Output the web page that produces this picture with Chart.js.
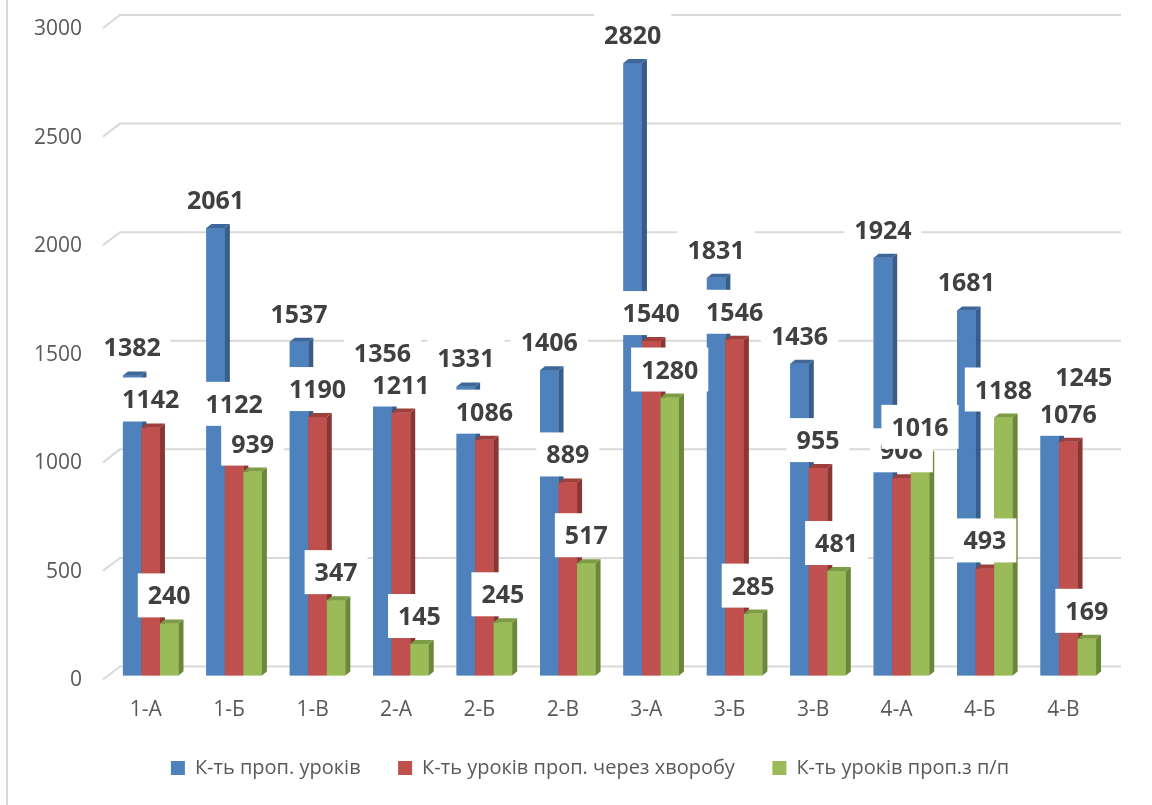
<!DOCTYPE html>
<html><head><meta charset="utf-8">
<script src="https://cdn.jsdelivr.net/npm/chart.js@4.4.0/dist/chart.umd.min.js"></script>
<style>html,body{margin:0;padding:0;background:#fff;}#wrap{width:1152px;height:805px;}</style>
</head><body><div id="wrap"><canvas id="c" width="1152" height="805"></canvas></div>
<script>
// ---- data ----
const categories = ['1-А','1-Б','1-В','2-А','2-Б','2-В','3-А','3-Б','3-В','4-А','4-Б','4-В'];
const seriesNames = ['К-ть проп. уроків','К-ть уроків проп. через хворобу','К-ть уроків проп.з п/п'];
const missedTotal   = [1382, 2061, 1537, 1356, 1331, 1406, 2820, 1831, 1436, 1924, 1681, 1245];
const missedIllness = [1142, 1122, 1190, 1211, 1086,  889, 1540, 1546,  955,  908,  493, 1076];
const missedOther   = [ 240,  939,  347,  145,  245,  517, 1280,  285,  481, 1016, 1188,  169];
const yMin = 0, yMax = 3000, yStep = 500;

// ---- style ----
const DX = 5, DY = 4;
const faces = [
  {front:'#4F81BD', side:'#385D8A', top:'#3F679A'},
  {front:'#C0504D', side:'#8A3634', top:'#9E3F3C'},
  {front:'#9BBB59', side:'#6C873A', top:'#7D9C45'}
];
const labelNudge = {'0-11': 34}; // dataset-index : x shift of label box
const gridColor = '#d9d9d9';

function noPad(s) { s.paddingTop = 0; s.paddingBottom = 0; s.paddingLeft = 0; s.paddingRight = 0; }

const threeD = {
  id: 'threeD',
  beforeDraw(chart) {
    const ctx = chart.ctx;
    ctx.save();
    ctx.strokeStyle = gridColor; ctx.lineWidth = 2;
    ctx.beginPath(); ctx.moveTo(7, 0); ctx.lineTo(7, chart.height); ctx.stroke();
    ctx.restore();
  },
  beforeDatasetsDraw(chart) {
    const ctx = chart.ctx, ys = chart.scales.y, a = chart.chartArea;
    ctx.save();
    ctx.strokeStyle = gridColor; ctx.lineWidth = 2;
    ys.ticks.forEach(t => {
      const py = ys.getPixelForValue(t.value);
      ctx.beginPath();
      ctx.moveTo(a.left - 6, py + 4);
      ctx.lineTo(a.left + 11, py - 9);
      ctx.lineTo(a.right + 11, py - 9);
      ctx.stroke();
    });
    ctx.restore();
  },
  afterDatasetsDraw(chart) {
    const ctx = chart.ctx;
    ctx.save();
    chart.data.datasets.forEach((ds, i) => {
      const meta = chart.getDatasetMeta(i);
      const f = faces[i];
      meta.data.forEach(el => {
        const {x, y, base, width} = el.getProps(['x','y','base','width'], true);
        const l = x - width/2, r = x + width/2;
        ctx.fillStyle = f.front;
        ctx.fillRect(l, y, width, base - y);
        ctx.fillStyle = f.side;
        ctx.beginPath();
        ctx.moveTo(r, y); ctx.lineTo(r + DX, y - DY); ctx.lineTo(r + DX, base - DY); ctx.lineTo(r, base);
        ctx.closePath(); ctx.fill();
        ctx.fillStyle = f.top;
        ctx.beginPath();
        ctx.moveTo(l, y); ctx.lineTo(l + DX, y - DY); ctx.lineTo(r + DX, y - DY); ctx.lineTo(r, y);
        ctx.closePath(); ctx.fill();
      });
    });
    ctx.restore();
  },
  afterDraw(chart) {
    const ctx = chart.ctx;
    ctx.save();
    ctx.font = 'bold 25px "Open Sans"';
    ctx.textAlign = 'center';
    ctx.textBaseline = 'alphabetic';
    chart.data.datasets.forEach((ds, i) => {
      const meta = chart.getDatasetMeta(i);
      meta.data.forEach((el, j) => {
        const {x, y} = el.getProps(['x','y'], true);
        const txt = String(ds.data[j]);
        const w = ctx.measureText(txt).width + 20;
        const cx = x + (labelNudge[i + '-' + j] || 0);
        const cy = y - 28;
        ctx.fillStyle = '#ffffff';
        ctx.fillRect(cx - w/2, cy - 22, w, 44);
        ctx.fillStyle = '#404040';
        ctx.fillText(txt, cx, cy + 9);
      });
    });
    ctx.restore();
  }
};

const series = [missedTotal, missedIllness, missedOther];
new Chart(document.getElementById('c'), {
  type: 'bar',
  data: {
    labels: categories,
    datasets: series.map((d, i) => ({
      label: seriesNames[i], data: d,
      backgroundColor: faces[i].front, borderWidth: 0,
      categoryPercentage: 0.666, barPercentage: 1.0
    }))
  },
  options: {
    responsive: false, animation: false, devicePixelRatio: 1,
    layout: {padding: {left: 28, right: 0, top: 24, bottom: 17}},
    plugins: {
      tooltip: {enabled: false},
      legend: {
        position: 'bottom',
        labels: {boxWidth: 14, boxHeight: 14, padding: 37.5, color: '#595959',
                 font: {family: '"Open Sans"', size: 20}}
      }
    },
    scales: {
      x: {
        grid: {display: false, drawTicks: false, tickLength: 0},
        border: {display: false},
        ticks: {color: '#595959', font: {family: '"Open Sans"', size: 21}, padding: 22, labelOffset: -5, maxRotation: 0},
        afterFit(s) { s.height = 45; noPad(s); }
      },
      y: {
        min: yMin, max: yMax,
        grid: {display: false, drawTicks: false, tickLength: 0},
        border: {display: false},
        ticks: {stepSize: yStep, color: '#595959', font: {family: '"Open Sans"', size: 21}, padding: 27, labelOffset: 5,
                callback: v => String(v)},
        afterFit(s) { s.width = 81; noPad(s); }
      },
      yRight: {
        position: 'right', display: true,
        grid: {display: false, drawTicks: false}, border: {display: false},
        ticks: {display: false},
        afterFit(s) { s.width = 42; noPad(s); }
      }
    }
  },
  plugins: [threeD]
});
</script></body></html>
